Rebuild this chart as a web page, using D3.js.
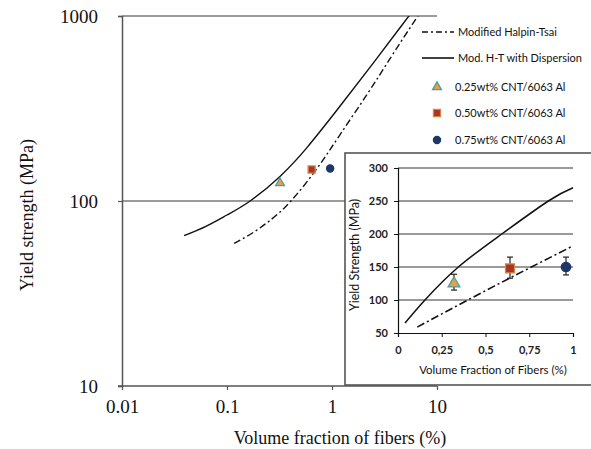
<!DOCTYPE html>
<html>
<head>
  <style>
    body { margin: 0; background: #fff; }
    svg { display: block; }
  </style>
</head>
<body>
  <div id="chart"></div>
  <script src="https://d3js.org/d3.v7.min.js"></script>
  <script>
    // Main chart data (log-log)
    const solidX = [0.039, 0.063, 0.1, 0.166, 0.316, 0.58, 1.19, 2.46, 4.44, 5.5, 6.5];
    const solidY = [65, 73, 84, 100, 135, 195, 325, 555, 864, 1014, 1150];
    const dashX = [0.117, 0.17, 0.25, 0.4, 0.72, 1.19, 2.15, 3.57, 5.5, 6.9, 8];
    const dashY = [59, 66.5, 77.6, 99, 150, 228, 376, 588, 858, 1040, 1180];

    // Experimental points (shared by main chart and inset)
    const pointNames = ["0.25wt% CNT/6063 Al", "0.50wt% CNT/6063 Al", "0.75wt% CNT/6063 Al"];
    const pointX = [0.32, 0.64, 0.96];
    const pointY = [125, 148, 150];
    const errLow = [115, 133, 138];
    const errHigh = [139, 165, 165];

    // Inset data (linear)
    const insetSolidX = [0.04, 0.154, 0.345, 0.593, 0.859, 1];
    const insetSolidY = [65, 100, 150, 200, 250, 270];
    const insetDashX = [0.11, 0.55, 1];
    const insetDashY = [59, 121, 182];

    const mainXTicks = [0.01, 0.1, 1, 10];
    const mainYTicks = [10, 100, 1000];
    const insetXTicks = [0, 0.25, 0.5, 0.75, 1];
    const insetYTicks = [50, 100, 150, 200, 250, 300];

    const seriesNames = ["Modified Halpin-Tsai", "Mod. H-T with Dispersion"];

    const serif = "'Liberation Serif', 'Times New Roman', serif";
    const sans = "Lato, 'Open Sans', sans-serif";

    const svg = d3.select("#chart").append("svg")
      .attr("width", 591)
      .attr("height", 449);

    // ---- main chart ----
    const x = d3.scaleLog().domain([0.01, 10]).range([122, 437]);
    const y = d3.scaleLog().domain([10, 1000]).range([386, 16]);

    svg.append("clipPath").attr("id", "plotclip")
      .append("rect").attr("x", 122).attr("y", 16).attr("width", 330).attr("height", 370);

    // horizontal gridlines at 100 and 1000
    svg.append("g").selectAll("line")
      .data([100, 1000])
      .join("line")
      .attr("x1", x(0.01)).attr("x2", x(10))
      .attr("y1", d => y(d)).attr("y2", d => y(d))
      .attr("stroke", "#7a7a7a").attr("stroke-width", 1.4);

    const xAxis = svg.append("g")
      .attr("transform", `translate(0,${y(10)})`)
      .call(d3.axisBottom(x).tickValues(mainXTicks).tickFormat(d => d).tickSize(4).tickPadding(10));
    const yAxis = svg.append("g")
      .attr("transform", `translate(${x(0.01)},0)`)
      .call(d3.axisLeft(y).tickValues(mainYTicks).tickFormat(d3.format("d")).tickSize(4).tickPadding(20));

    [xAxis, yAxis].forEach(g => {
      g.select(".domain").attr("stroke", "#555").attr("stroke-width", 1.5);
      g.selectAll(".tick line").attr("stroke", "#555").attr("stroke-width", 1.2);
      g.selectAll(".tick text")
        .attr("font-family", serif).attr("font-size", 19).attr("fill", "#111");
    });
    xAxis.select(".domain").attr("d", `M${x(0.01) - 4},0H${x(10)}`);

    svg.append("text")
      .attr("x", 340).attr("y", 444)
      .attr("text-anchor", "middle")
      .attr("font-family", serif).attr("font-size", 18).attr("fill", "#111")
      .text("Volume fraction of fibers (%)");

    svg.append("text")
      .attr("transform", "translate(33,215) rotate(-90)")
      .attr("text-anchor", "middle")
      .attr("font-family", serif).attr("font-size", 18).attr("fill", "#111")
      .text("Yield strength (MPa)");

    const mainLine = d3.line()
      .x(d => x(d[0])).y(d => y(d[1]))
      .curve(d3.curveNatural);

    const plot = svg.append("g").attr("clip-path", "url(#plotclip)");
    plot.append("path")
      .attr("d", mainLine(d3.zip(solidX, solidY)))
      .attr("fill", "none").attr("stroke", "#111").attr("stroke-width", 1.4);
    plot.append("path")
      .attr("d", mainLine(d3.zip(dashX, dashY)))
      .attr("fill", "none").attr("stroke", "#111").attr("stroke-width", 1.4)
      .attr("stroke-dasharray", "7,3,2,3");

    // markers
    const markerStyles = [
      { shape: d3.symbolTriangle, fill: "#e8a040", stroke: "#4a9ea6", size: 34 },
      { shape: d3.symbolSquare, fill: "#a8342a", stroke: "#d8863c", size: 50 },
      { shape: d3.symbolCircle, fill: "#1d3766", stroke: "#1d3766", size: 40 }
    ];

    function drawMarker(g, i, cx, cy) {
      const m = markerStyles[i];
      g.append("path")
        .attr("d", d3.symbol().type(m.shape).size(m.size)())
        .attr("transform", `translate(${cx},${cy})`)
        .attr("fill", m.fill).attr("stroke", m.stroke).attr("stroke-width", 1.3);
    }

    pointX.forEach((px, i) => drawMarker(svg, i, x(px), y(pointY[i])));

    // legend
    const legend = svg.append("g").attr("font-family", sans).attr("font-size", 11).attr("fill", "#111");
    const legendLineY = [32, 58];
    legendLineY.forEach((ly, i) => {
      legend.append("line")
        .attr("x1", 422).attr("x2", 454).attr("y1", ly).attr("y2", ly)
        .attr("stroke", "#111").attr("stroke-width", 1.6)
        .attr("stroke-dasharray", i === 0 ? "6,3,2,3" : null);
      legend.append("text")
        .attr("x", 458).attr("y", ly).attr("dy", "0.35em")
        .text(seriesNames[i]);
    });
    const legendPtY = [87, 113, 140];
    legendPtY.forEach((ly, i) => {
      drawMarker(legend, i, 437, ly);
      legend.append("text")
        .attr("x", 455).attr("y", ly).attr("dy", "0.35em")
        .text(pointNames[i]);
    });

    // ---- inset ----
    const inset = svg.append("g");
    inset.append("rect")
      .attr("x", 345).attr("y", 153).attr("width", 260).attr("height", 232)
      .attr("fill", "#fff").attr("stroke", "#555").attr("stroke-width", 1.6);

    const ix = d3.scaleLinear().domain([0, 1]).range([398, 573]);
    const iy = d3.scaleLinear().domain([50, 300]).range([333, 168]);

    inset.append("g").selectAll("line")
      .data(insetYTicks.slice(1))
      .join("line")
      .attr("x1", ix(0)).attr("x2", ix(1))
      .attr("y1", d => iy(d)).attr("y2", d => iy(d))
      .attr("stroke", "#9a9a9a").attr("stroke-width", 1.8);

    const ixAxis = inset.append("g")
      .attr("transform", `translate(0,${iy(50)})`)
      .call(d3.axisBottom(ix).tickValues(insetXTicks)
        .tickFormat(d => String(d).replace(".", ",")).tickSize(4).tickPadding(9));
    const iyAxis = inset.append("g")
      .attr("transform", `translate(${ix(0)},0)`)
      .call(d3.axisLeft(iy).tickValues(insetYTicks).tickSize(4).tickPadding(6));

    [ixAxis, iyAxis].forEach(g => {
      g.select(".domain").attr("stroke", "#111").attr("stroke-width", 1.2);
      g.selectAll(".tick line").attr("stroke", "#111");
      g.selectAll(".tick text")
        .attr("font-family", sans).attr("font-size", 11).attr("font-weight", 700).attr("fill", "#222");
    });

    inset.append("text")
      .attr("x", 493).attr("y", 374)
      .attr("text-anchor", "middle")
      .attr("font-family", sans).attr("font-size", 11.5).attr("fill", "#111")
      .text("Volume Fraction of Fibers  (%)");
    inset.append("text")
      .attr("transform", "translate(359,255) rotate(-90)")
      .attr("text-anchor", "middle")
      .attr("font-family", sans).attr("font-size", 12.5).attr("fill", "#111")
      .text("Yield Strength (MPa)");

    const insetLine = d3.line()
      .x(d => ix(d[0])).y(d => iy(d[1]))
      .curve(d3.curveNatural);
    inset.append("path")
      .attr("d", insetLine(d3.zip(insetSolidX, insetSolidY)))
      .attr("fill", "none").attr("stroke", "#111").attr("stroke-width", 1.5);
    inset.append("path")
      .attr("d", insetLine(d3.zip(insetDashX, insetDashY)))
      .attr("fill", "none").attr("stroke", "#111").attr("stroke-width", 1.6)
      .attr("stroke-dasharray", "8,3,2,3");

    // error bars
    pointX.forEach((px, i) => {
      const cx = ix(px);
      const eb = inset.append("g").attr("stroke", "#222").attr("stroke-width", 1.2);
      eb.append("line").attr("x1", cx).attr("x2", cx)
        .attr("y1", iy(errLow[i])).attr("y2", iy(errHigh[i]));
      [errLow[i], errHigh[i]].forEach(v => {
        eb.append("line").attr("x1", cx - 3).attr("x2", cx + 3)
          .attr("y1", iy(v)).attr("y2", iy(v));
      });
    });
    const insetMarkers = [
      { shape: d3.symbolTriangle, fill: "#e8a040", stroke: "#4a9ea6", size: 60 },
      { shape: d3.symbolSquare, fill: "#a8342a", stroke: "#d8863c", size: 80 },
      { shape: d3.symbolCircle, fill: "#1d3766", stroke: "#1d3766", size: 70 }
    ];
    pointX.forEach((px, i) => {
      const m = insetMarkers[i];
      inset.append("path")
        .attr("d", d3.symbol().type(m.shape).size(m.size)())
        .attr("transform", `translate(${ix(px)},${iy(pointY[i])})`)
        .attr("fill", m.fill).attr("stroke", m.stroke).attr("stroke-width", 1.3);
    });
  </script>
</body>
</html>
